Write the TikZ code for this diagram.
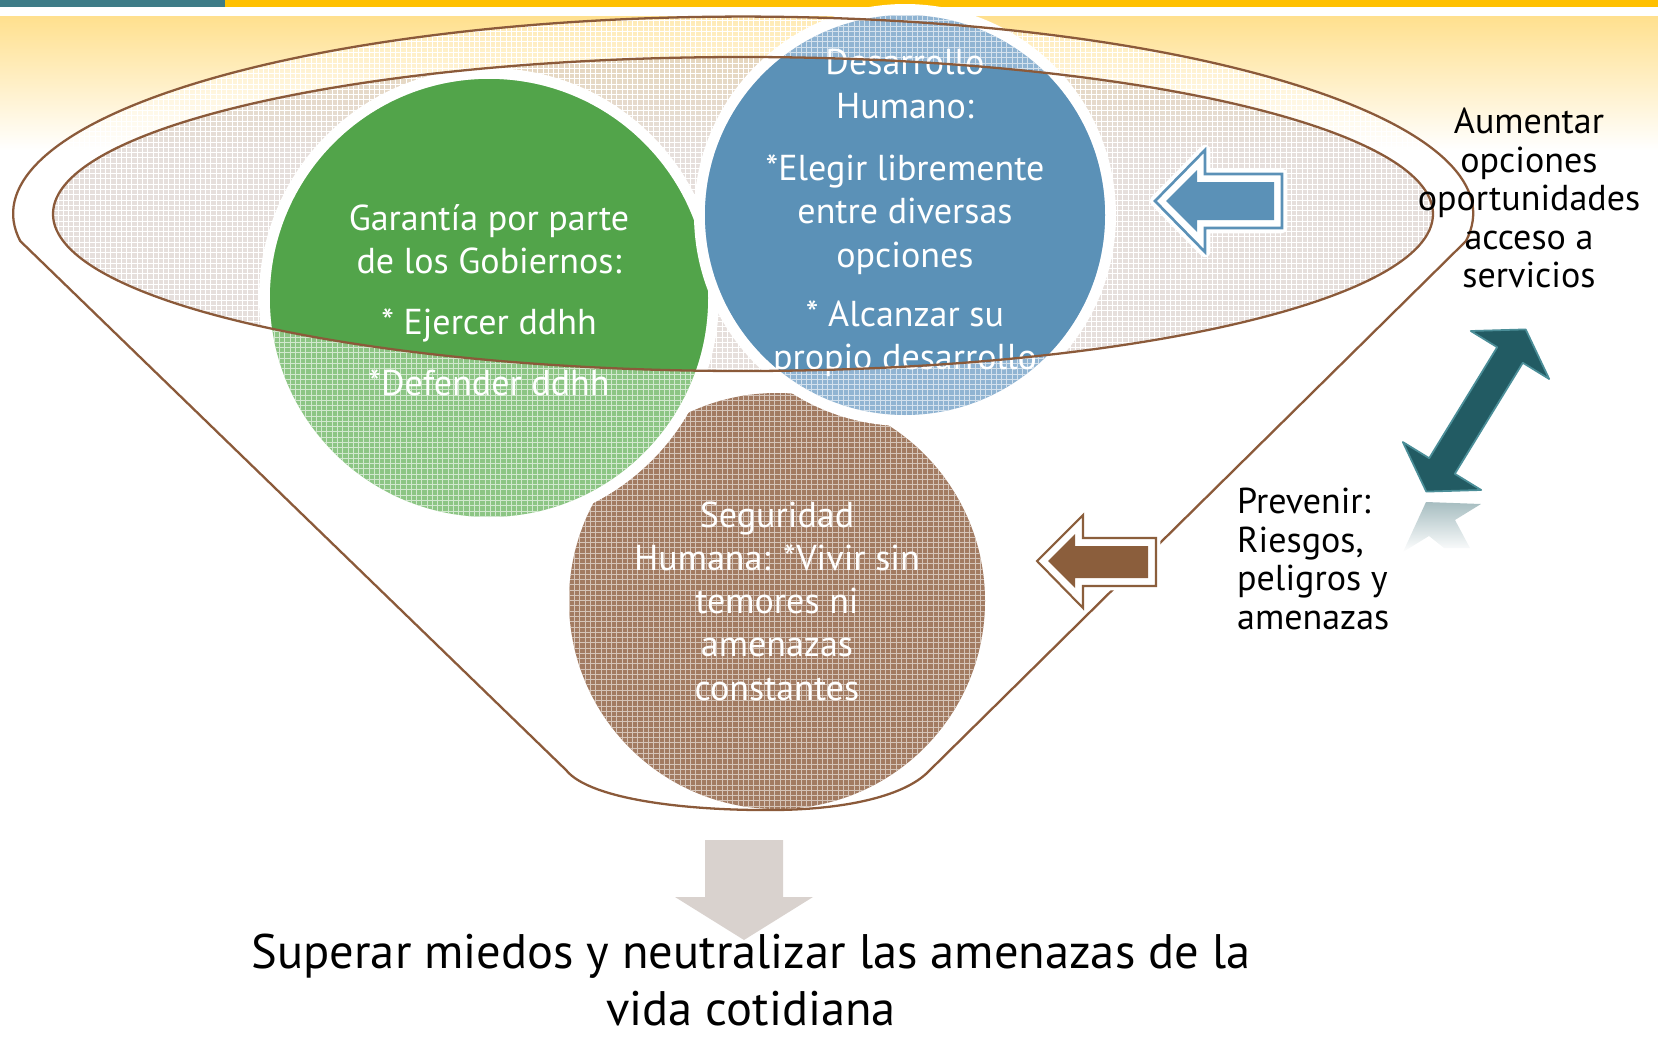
\documentclass[tikz,border=0pt]{standalone}
\usepackage{fontspec}
\setmainfont{PT Sans}
\usetikzlibrary{patterns}

\definecolor{barteal}{HTML}{3E7C87}
\definecolor{baryellow}{HTML}{FFC000}
\definecolor{glow}{HTML}{FFE08E}
\definecolor{rim}{HTML}{8B5A3A}
\definecolor{innerfill}{HTML}{C4B4AC}
\definecolor{dgreen}{HTML}{52A44A}
\definecolor{lgreen}{HTML}{8CC584}
\definecolor{dblue}{HTML}{5B91B7}
\definecolor{lblue}{HTML}{90B4D2}
\definecolor{lbrown}{HTML}{A27B62}
\definecolor{dbrown}{HTML}{8B5E3C}
\definecolor{dteal}{HTML}{225B63}
\definecolor{eteal}{HTML}{4B8E98}
\definecolor{lgrey}{HTML}{D9D2CE}

\newcommand{\funnelpath}{(1466,241) arc[start angle=8,end angle=-188,x radius=730,y radius=197] -- (566,770) .. controls (590,800) and (690,811) .. (777,810) .. controls (850,809) and (905,795) .. (928,772) -- cycle}
\newcommand{\innerpath}{(743,214) ellipse[x radius=690,y radius=157]}

\tikzset{
  hatch/.style={postaction={pattern=grid,pattern color=#1}},
  hatch/.default=white,
  rimline/.style={draw=rim,line width=1.3pt},
  intext/.style={text=white,align=center,font=\fontsize{20.5}{24.6}\selectfont},
  sidetext/.style={font=\fontsize{20.5}{21.9}\selectfont},
  halo/.style={draw=white,line width=#1,line join=round},
}

\begin{document}
\begin{tikzpicture}[x=0.02cm,y=-0.02cm]
\useasboundingbox (0,0) rectangle (1658,1038);
% top band
\fill[barteal] (0,0) rectangle (225,7);
\fill[baryellow] (225,0) rectangle (1658,7);
\shade[top color=glow,bottom color=white] (0,16) rectangle (1658,150);

% funnel
\fill[white,fill opacity=0.35,hatch] \funnelpath;
\fill[innerfill,fill opacity=0.42,hatch] \innerpath;

% circles
\fill[lbrown,hatch=lbrown!45!white] (777,601) circle[radius=208];
\fill[white] (489,298) circle[radius=230];
\fill[lgreen,hatch=lgreen!40!white] (489,298) circle[radius=219];
\begin{scope}
  \clip \innerpath;
  \fill[dgreen] (489,298) circle[radius=219];
\end{scope}
\fill[white] (905,215) circle[radius=211];
\fill[lblue,hatch=lblue!40!white] (905,215) circle[radius=200];
\begin{scope}
  \clip \innerpath;
  \fill[dblue] (905,215) circle[radius=200];
\end{scope}

\node[intext] (garantia) at (489,300) {Garantía por parte\\de los Gobiernos:\\[10pt]* Ejercer ddhh\\[10pt]*Defender ddhh};
\node[intext] (desarrollo) at (905,213) {Desarrollo\\Humano:\\[11pt]*Elegir libremente\\entre diversas\\opciones\\[9pt]* Alcanzar su\\propio desarrollo};
\node[intext] (seguridad) at (777,601) {Seguridad\\Humana: *Vivir sin\\temores ni\\amenazas\\constantes};

\draw[rimline] \funnelpath;
\draw[rimline] \innerpath;

% left arrows
\draw[halo=6pt] (1155,201) -- (1205,150) -- (1205,174) -- (1282,174) -- (1282,228) -- (1205,228) -- (1205,252) -- cycle;
\draw[dblue,line width=1.5pt,fill=white] (1155,201) -- (1205,150) -- (1205,174) -- (1282,174) -- (1282,228) -- (1205,228) -- (1205,252) -- cycle;
\fill[dblue] (1166,201) -- (1197,170) -- (1197,182) -- (1274,182) -- (1274,220) -- (1197,220) -- (1197,232) -- cycle;

\draw[halo=5pt] (1037,561) -- (1083,515) -- (1083,538) -- (1156,538) -- (1156,586) -- (1083,586) -- (1083,608) -- cycle;
\draw[dbrown,line width=1.2pt,fill=white] (1037,561) -- (1083,515) -- (1083,538) -- (1156,538) -- (1156,586) -- (1083,586) -- (1083,608) -- cycle;
\fill[dbrown] (1048,561) -- (1075,534) -- (1075,546) -- (1148,546) -- (1148,578) -- (1075,578) -- (1075,588) -- cycle;

% double arrow and its reflection
\shade[top color=dteal!40,bottom color=white] (1426,502) -- (1481,504) -- (1455,520) -- (1470,548) -- (1444,548) -- (1429,536) -- (1403,552) -- cycle;
\filldraw[fill=dteal,draw=eteal,line width=1pt,line join=round] (1525.7,329.4) -- (1549.2,379) -- (1522.8,362.8) -- (1454.8,473.8) -- (1481.2,490) -- (1426.3,491.6) -- (1402.8,442) -- (1429.2,458.2) -- (1497.2,347.2) -- (1470.8,331) -- cycle;

% result
\fill[lgrey] (705,840) -- (783,840) -- (783,897) -- (813,897) -- (744,940) -- (675,897) -- (705,897) -- cycle;

\node[sidetext,align=center] (aumentar) at (1529,198) {Aumentar\\opciones\\oportunidades\\acceso a\\servicios};
\node[sidetext,align=left,anchor=west] (prevenir) at (1231,559) {Prevenir:\\Riesgos,\\peligros y\\amenazas};
\node[font=\fontsize{27.6}{32.5}\selectfont,align=center,inner sep=0pt] (superar) at (751,980) {Superar miedos y neutralizar las amenazas de la\\vida cotidiana};
\end{tikzpicture}
\end{document}
